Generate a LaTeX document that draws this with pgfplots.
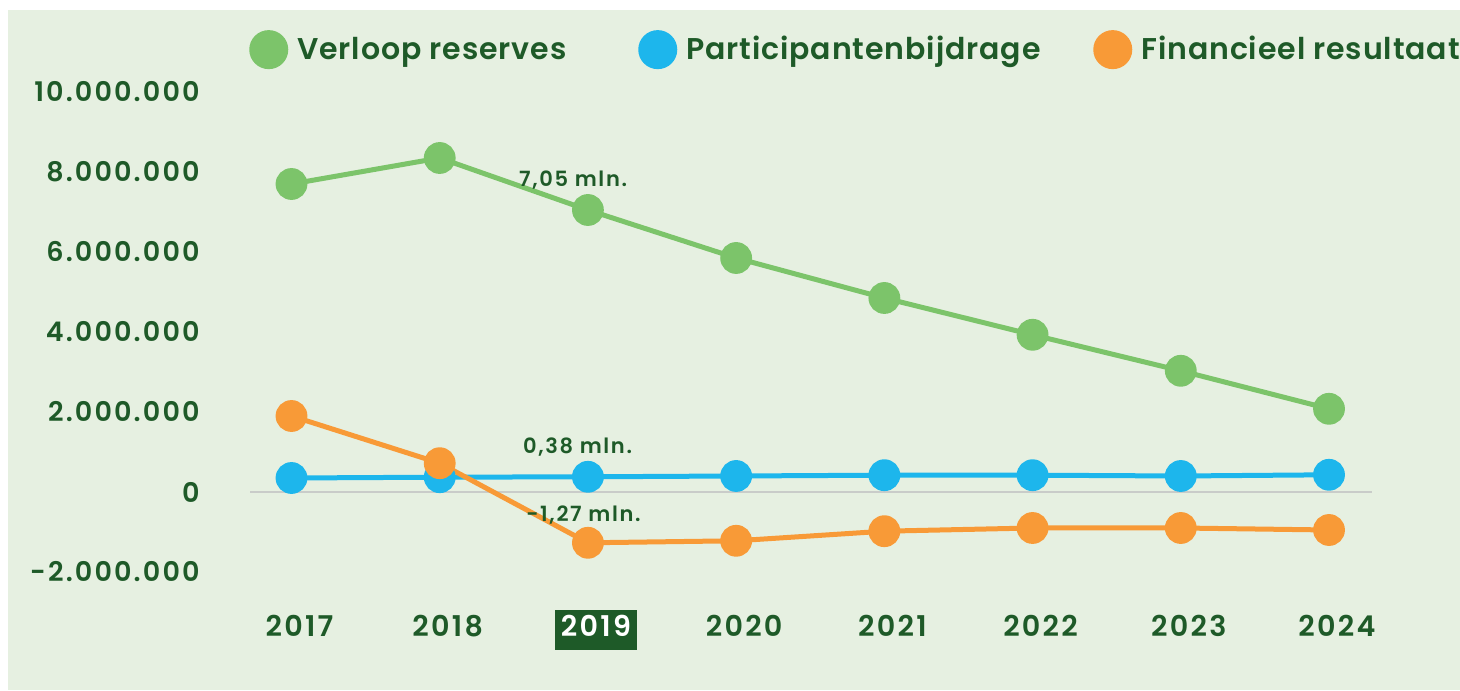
\documentclass[border=0pt]{standalone}
\usepackage{pgfplots}
\pgfplotsset{compat=1.18}
\usepackage{fontspec}
\setmainfont{Poppins SemiBold}
\definecolor{bg}{HTML}{E6F0E1}
\definecolor{dkg}{HTML}{1E5A28}
\definecolor{cg}{HTML}{7CC46A}
\definecolor{cb}{HTML}{1DB6EC}
\definecolor{co}{HTML}{F89A37}
\definecolor{zl}{HTML}{C9CCC9}
\begin{document}
\begin{tikzpicture}
\fill[white] (0,0) rectangle (730pt,345pt);
\fill[bg] (4pt,0pt) rectangle (730pt,340pt);
\begin{axis}[
  at={(125pt,49pt)}, anchor=south west,
  scale only axis, width=561pt, height=260pt,
  xmin=-0.28, xmax=7.29, ymin=-2.5, ymax=10.5,
  axis line style={draw=none}, major tick length=0pt,
  xtick={0,...,7},
  xticklabels={2017,2018,{\setlength{\fboxsep}{3pt}\colorbox{dkg}{\textcolor{white}{\rule[-3.5pt]{0pt}{14pt}2019}}},2020,2021,2022,2023,2024},
  ytick={-2,0,2,4,6,8,10},
  yticklabels={-2.000.000,0,2.000.000,4.000.000,6.000.000,8.000.000,10.000.000},
  yticklabel style={font=\fontsize{13.5}{15}\selectfont\addfontfeature{LetterSpace=8}, text=dkg, anchor=east, inner sep=0pt, xshift=-25pt},
  xticklabel style={font=\fontsize{14.3}{16}\selectfont\addfontfeature{LetterSpace=8}, text=dkg, anchor=base, inner sep=0pt, yshift=-22.5pt, xshift=4pt},
  clip=false,
  legend columns=3,
  legend style={draw=none, fill=none, at={(-0.001,1.043)}, anchor=west,
    font=\fontsize{15}{17}\selectfont\addfontfeature{LetterSpace=3}, text=dkg, inner sep=0pt,
    nodes={inner sep=0pt, anchor=west}, column sep=0pt},
  legend image code/.code={\fill[#1] (8.5pt,0pt) circle (8.5pt);},
]
\addplot[zl, line width=0.8pt, forget plot] coordinates {(-0.28,0) (7.29,0)};
\addplot[cg, line width=2.5pt, mark=*, mark size=6.7pt, mark options={solid, fill=cg, draw=none}]
  coordinates {(0,7.70) (1,8.35) (2,7.05) (3,5.85) (4,4.85) (5,3.93) (6,3.03) (7,2.08)};
\addlegendentry{\makebox[175pt][l]{\hspace{4.5pt}Verloop reserves}}
\addplot[cb, line width=2.5pt, mark=*, mark size=6.7pt, mark options={solid, fill=cb, draw=none}]
  coordinates {(0,0.35) (1,0.37) (2,0.38) (3,0.40) (4,0.42) (5,0.42) (6,0.40) (7,0.43)};
\addlegendentry{\makebox[208pt][l]{\hspace{4.5pt}Participantenbijdrage}}
\addplot[co, line width=2.5pt, mark=*, mark size=6.7pt, mark options={solid, fill=co, draw=none}]
  coordinates {(0,1.90) (1,0.72) (2,-1.27) (3,-1.22) (4,-0.98) (5,-0.90) (6,-0.90) (7,-0.95)};
\addlegendentry{\hspace{4.5pt}Financieel resultaat}
\node[text=dkg, font=\fontsize{10.5}{12}\selectfont\addfontfeature{LetterSpace=8}] at (axis cs:1.90,7.8) {7,05 mln.};
\node[text=dkg, font=\fontsize{10.5}{12}\selectfont\addfontfeature{LetterSpace=8}] at (axis cs:1.93,1.125) {0,38 mln.};
\node[text=dkg, font=\fontsize{10.5}{12}\selectfont\addfontfeature{LetterSpace=8}] at (axis cs:1.97,-0.575) {-1,27 mln.};
\end{axis}
\pgfresetboundingbox
\path[use as bounding box] (0,0) rectangle (730pt,345pt);
\end{tikzpicture}
\end{document}
